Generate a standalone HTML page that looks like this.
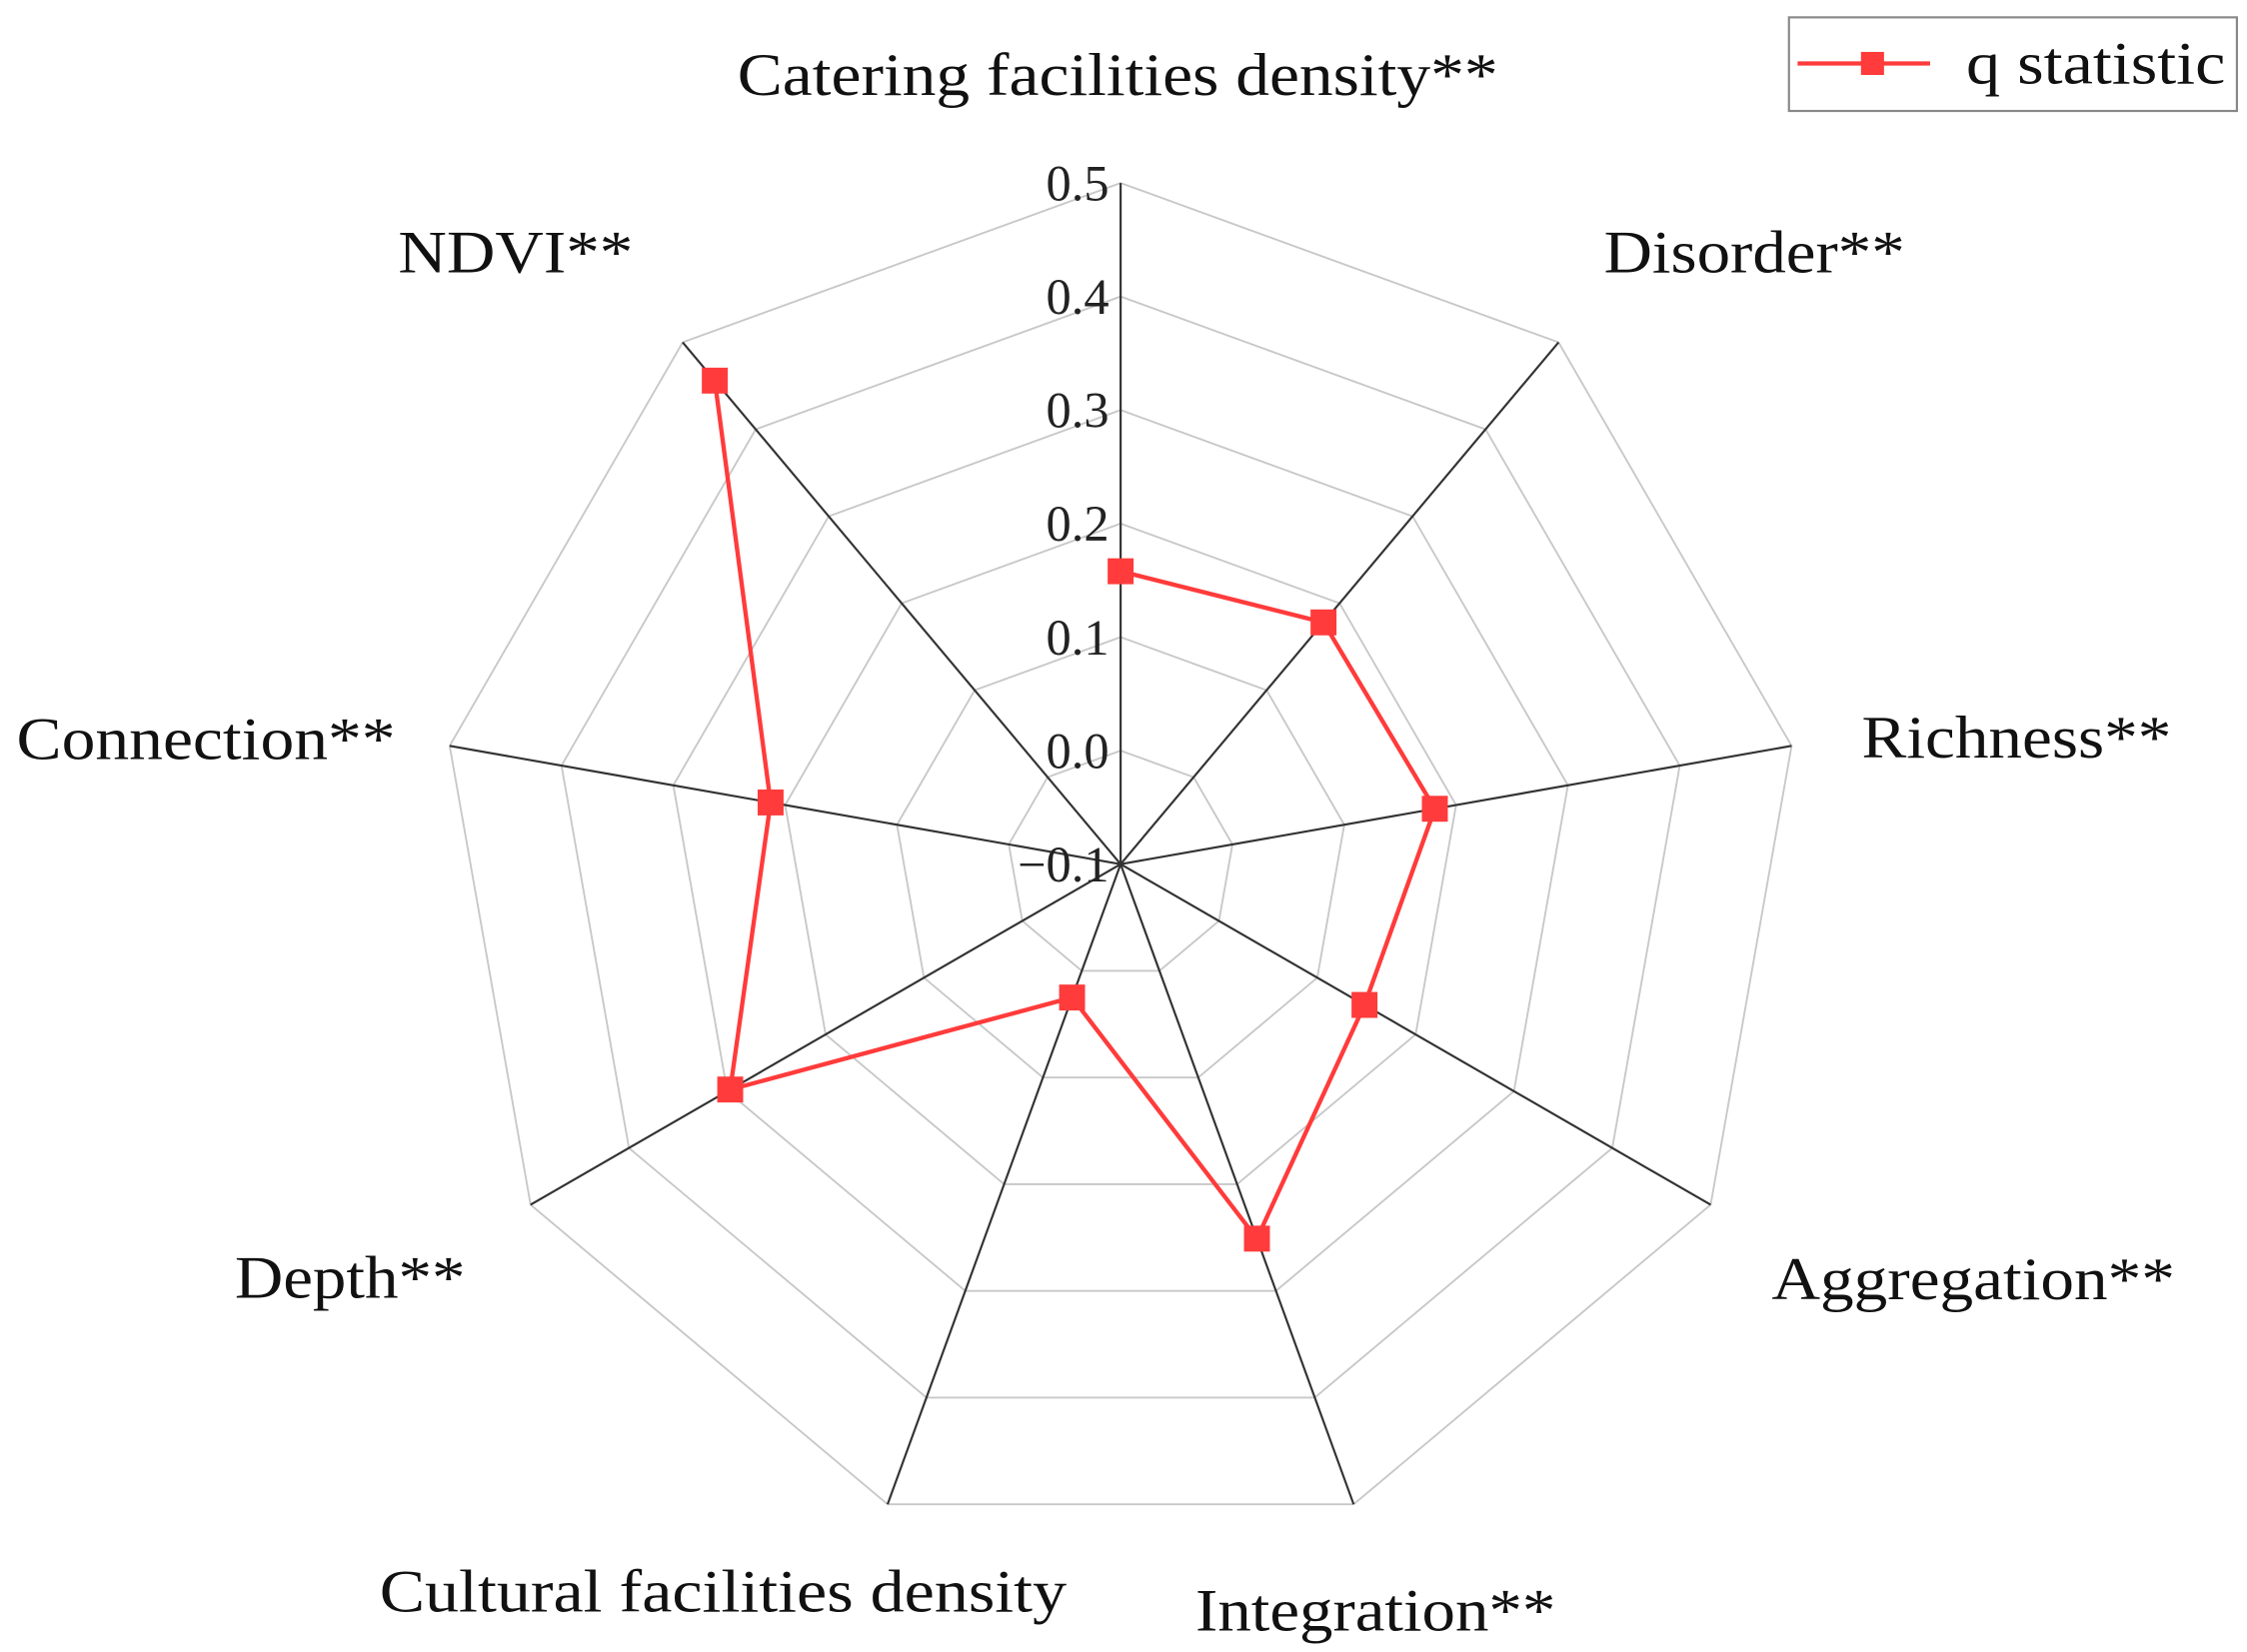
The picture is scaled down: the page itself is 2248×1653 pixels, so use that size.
<!DOCTYPE html>
<html><head><meta charset="utf-8"><style>
html,body{margin:0;padding:0;background:#fff;}
svg{display:block;font-family:"Liberation Serif",serif;}
</style></head><body>
<svg id="chart" width="2248" height="1653" viewBox="0 0 1560 1147" xmlns="http://www.w3.org/2000/svg">
<g id="grid"></g>
<g id="axes"></g>
<g id="ticks"></g>
<g id="cats"></g>
<g id="series"></g>
<g>
<rect x="1242" y="12" width="311" height="65" fill="#fff" stroke="#888" stroke-width="1.5"/>
<line x1="1248" y1="44" x2="1340" y2="44" stroke="#ff3b3b" stroke-width="3"/>
<rect x="1292" y="36" width="16" height="16" fill="#ff3b3b"/>
<text x="1365" y="58" font-size="42" textLength="180" lengthAdjust="spacingAndGlyphs" fill="#111">q statistic</text>
</g>
</svg>
<script>
const categories = ["Catering facilities density**","Disorder**","Richness**","Aggregation**","Integration**","Cultural facilities density","Depth**","Connection**","NDVI**"];
const qValues = [0.158,0.178,0.181,0.148,0.251,0.025,0.297,0.213,0.456];
const tickLabels = ["\u22120.1","0.0","0.1","0.2","0.3","0.4","0.5"];
const tickValues = [-0.1,0,0.1,0.2,0.3,0.4,0.5];
const labelPos = [[776,52],[1218,175],[1400,512],[1370,888],[955,1118],[502,1105],[243,887],[143,513],[358,175]];
const labelLen = [528,209,215,280,250,477,160,263,163];

const NS="http://www.w3.org/2000/svg";
const cx=778, cy=600, R=473, vmin=-0.1, vmax=0.5;
const n=categories.length;
function r(v){return (v-vmin)/(vmax-vmin)*R;}
function pt(i,v){const a=i*2*Math.PI/n;return [cx+r(v)*Math.sin(a), cy-r(v)*Math.cos(a)];}
function mk(tag,attrs,parent){const e=document.createElementNS(NS,tag);for(const k in attrs)e.setAttribute(k,attrs[k]);parent.appendChild(e);return e;}

const grid=document.getElementById('grid');
tickValues.forEach((t,k)=>{
  if(t===vmin) return;
  const pts=categories.map((c,i)=>pt(i,t).join(',')).join(' ');
  const p=mk('polygon',{points:pts,fill:'none',stroke:'#c8c8c8','stroke-width':1.3},grid);
  
  
});
const axes=document.getElementById('axes');
categories.forEach((c,i)=>{
  const [x,y]=pt(i,vmax);
  const l=mk('line',{x1:cx,y1:cy,x2:x,y2:y,stroke:'#333','stroke-width':1.5},axes);
  
  
});
const ticks=document.getElementById('ticks');
tickValues.forEach((t,k)=>{
  const [x,y]=pt(0,t);
  const tx=mk('text',{x:x-8,y:y+12,'font-size':35,'text-anchor':'end',fill:'#222'},ticks);
  tx.textContent=tickLabels[k];
  
  
});
const cats=document.getElementById('cats');
categories.forEach((c,i)=>{
  const tx=mk('text',{x:labelPos[i][0]-labelLen[i]/2,y:labelPos[i][1]+14,'font-size':42,textLength:labelLen[i],lengthAdjust:'spacingAndGlyphs',fill:'#111'},cats);
  tx.textContent=c;
  
  
});
const ser=document.getElementById('series');
const pts=qValues.map((v,i)=>pt(i,v));
const poly=mk('polyline',{points:pts.map(p=>p.join(',')).join(' '),fill:'none',stroke:'#ff3b3b','stroke-width':3},ser);


pts.forEach(p=>{
  const m=mk('rect',{x:p[0]-9,y:p[1]-9,width:18,height:18,fill:'#ff3b3b'},ser);
  
  
});
</script>
</body></html>
